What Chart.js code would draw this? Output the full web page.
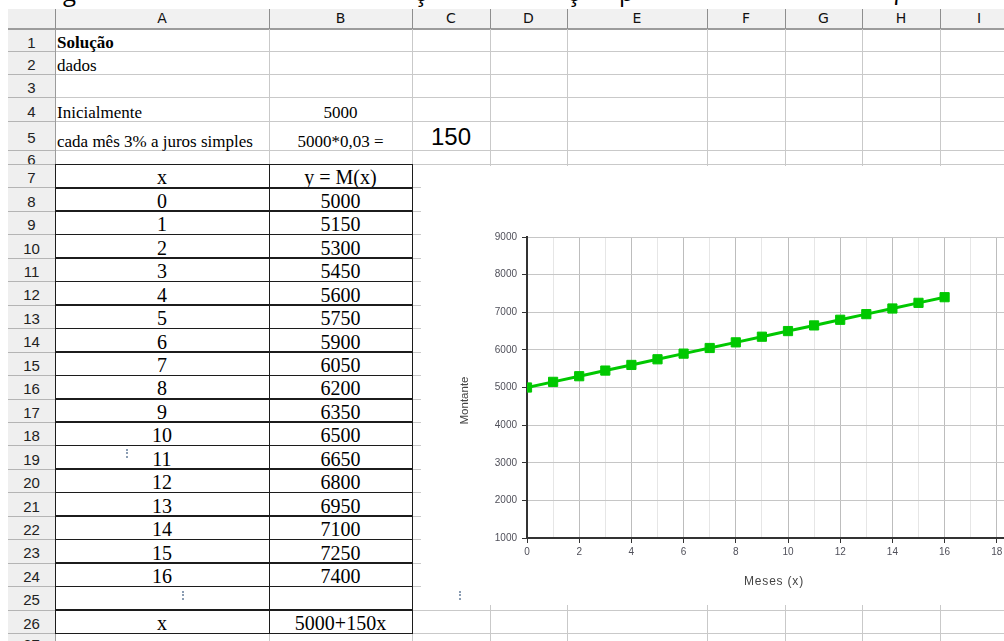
<!DOCTYPE html>
<html>
<head>
<meta charset="utf-8">
<script src="https://cdn.jsdelivr.net/npm/chart.js@4.4.1/dist/chart.umd.min.js"></script>
<style>
  html, body { margin: 0; padding: 0; background: #fff; overflow: hidden; width: 1004px; height: 641px; }
  #sheet { position: absolute; left: 0; top: 0; width: 1004px; height: 641px; overflow: hidden; background: #fff; }
  .ln { position: absolute; }
  .cell { position: absolute; display: flex; align-items: flex-end; white-space: nowrap; box-sizing: border-box; color: #000; }
  .serif17 { font-family: "Liberation Serif", serif; font-size: 17px; line-height: 17px; padding-bottom: 0px; }
  .serif20 { font-family: "Liberation Serif", serif; font-size: 20px; line-height: 20px; }
  .big { font-family: "Liberation Sans", sans-serif; font-size: 24px; line-height: 24px; padding-bottom: 1px; }
  .hdr { position: absolute; display: flex; align-items: center; justify-content: center; box-sizing: border-box; overflow: hidden; color: #222; font-family: "Liberation Sans", sans-serif; }
  #lead { position: absolute; top: -20px; left: 0; width: 1004px; height: 30px; font-family: "Open Sans", sans-serif; font-size: 24px; line-height: 24px; color: #000; }
  #lead span { position: absolute; top: 0; }
  #chartBox { position: absolute; left: 421px; top: 166px; width: 640px; height: 439px; background: #fff; z-index: 5; }
  .dots { position: absolute; width: 0; height: 9px; border-left: 2px dotted #8b9db3; z-index: 6; }
</style>
</head>
<body>
<div id="sheet">
  <div id="lead"><span style="left:63px">g</span><span style="left:414px">ç</span><span style="left:567px">ç</span><span style="left:619px">p</span><span style="left:888px;font-family:'Liberation Serif',serif;font-style:italic">η</span></div>
  <div id="chartBox"><canvas id="chart" width="640" height="439" style="width:640px;height:439px"></canvas></div>
</div>
<script>
// Table values: month number and accumulated amount (simple interest, 150 per month)
const months  = [0, 1, 2, 3, 4, 5, 6, 7, 8, 9, 10, 11, 12, 13, 14, 15, 16];
const amounts = [5000, 5150, 5300, 5450, 5600, 5750, 5900, 6050, 6200, 6350, 6500, 6650, 6800, 6950, 7100, 7250, 7400];

// Axis ranges
const xRange = [0, 20];
const yRange = [1000, 9000];
const yStep = 1000;

// Spreadsheet labels
const colLetters = ['A', 'B', 'C', 'D', 'E', 'F', 'G', 'H', 'I'];
const rowCount = 27;

// Sheet geometry (column / row edges in px)
const colEdges = [8, 55, 269, 412, 490, 567, 707, 785, 862, 940, 1018];
const rowEdges = [9, 29, 51, 74, 97, 121, 150, 164];
for (let k = 1; k <= 20; k++) rowEdges.push(164 + k * 23.45);
rowEdges.push(652);

const sheet = document.getElementById('sheet');
function box(cls, l, t, w, h, style) {
  const d = document.createElement('div');
  d.className = cls;
  d.style.left = l + 'px'; d.style.top = t + 'px';
  d.style.width = w + 'px'; d.style.height = h + 'px';
  if (style) Object.assign(d.style, style);
  sheet.insertBefore(d, document.getElementById('chartBox'));
  return d;
}

// header backgrounds
box('ln', 8, 9, 996, 20, { background: '#f1f1f1' });
box('ln', 8, 9, 47, 632, { background: '#efefef' });

// grid lines
for (let r = 1; r < rowEdges.length; r++) {
  const y = Math.round(rowEdges[r]);
  box('ln', 55, y, 960, 1, { background: '#c9c9c9' });
  box('ln', 8, y, 47, 1, { background: '#b4b4b4' });
}
box('ln', 8, 28, 996, 2, { background: '#9c9c9c' });
for (let c = 1; c < colEdges.length - 1; c++) {
  const x = colEdges[c];
  box('ln', x, 29, 1, 612, { background: c === 1 ? '#9c9c9c' : '#c9c9c9' });
  box('ln', x, 9, 1, 20, { background: '#8e8e8e' });
}

// column letters
colLetters.forEach((L, i) => {
  const d = box('hdr', colEdges[i + 1], 9, colEdges[i + 2] - colEdges[i + 1], 20,
    { fontFamily: '"DejaVu Sans", sans-serif', fontSize: '14px', paddingBottom: '2px', color: '#111' });
  d.textContent = L;
});
// row numbers
for (let r = 1; r <= rowCount; r++) {
  const t = rowEdges[r], b = rowEdges[r + 1];
  const d = box('hdr', 8, t, 47, b - t, { fontSize: '15px', paddingTop: '4px' });
  d.textContent = r;
}

// cell text
function cell(row, col, text, cls, align, extra) {
  const l = colEdges[col + 1], r = colEdges[col + 2];
  const t = rowEdges[row], b = rowEdges[row + 1];
  const d = box('cell ' + cls, align === 'left' ? l + 2 : l, t, align === 'left' ? 400 : r - l, b - t,
    Object.assign({ justifyContent: align === 'left' ? 'flex-start' : 'center' }, extra || {}));
  d.textContent = text;
  return d;
}
cell(1, 0, 'Solução', 'serif17', 'left', { fontWeight: 'bold' });
cell(2, 0, 'dados', 'serif17', 'left');
cell(4, 0, 'Inicialmente', 'serif17', 'left');
cell(4, 1, '5000', 'serif17', 'center');
cell(5, 0, 'cada mês 3% a juros simples', 'serif17', 'left');
cell(5, 1, '5000*0,03 =', 'serif17', 'center');
cell(5, 2, '150', 'big', 'center');
cell(7, 0, 'x', 'serif20', 'center');
cell(7, 1, 'y = M(x)', 'serif20', 'center');
months.forEach((m, i) => {
  cell(8 + i, 0, String(m), 'serif20', 'center');
  cell(8 + i, 1, String(amounts[i]), 'serif20', 'center');
});
cell(26, 0, 'x', 'serif20', 'center');
cell(26, 1, '5000+150x', 'serif20', 'center');

// black borders of the x / y table
for (let r = 7; r <= 27; r++) {
  box('ln', 55, rowEdges[r] - 0.5, 358, 1.6, { background: '#1c1c1c' });
}
[55, 269, 412].forEach(x => box('ln', x - 0.5, 164, 1.6, 469, { background: '#1c1c1c' }));

// small dotted markers
[[126, 449], [182, 591], [459, 591]].forEach(([x, y]) => box('dots', x, y, 0, 9));

// chart
const axisTitles = {
  id: 'axisTitles',
  afterDraw(chart) {
    const { ctx, chartArea: a } = chart;
    ctx.save();
    ctx.fillStyle = '#444';
    ctx.textAlign = 'center';
    ctx.textBaseline = 'middle';
    ctx.font = '12px "Liberation Sans", sans-serif';
    ctx.letterSpacing = '0.8px';
    ctx.fillText('Meses (x)', a.left + 247, a.bottom + 44);
    ctx.letterSpacing = '0px';
    ctx.font = '11.5px "Liberation Sans", sans-serif';
    ctx.translate(a.left - 62, (a.top + a.bottom) / 2 + 13);
    ctx.rotate(-Math.PI / 2);
    ctx.fillText('Montante', 0, 0);
    ctx.restore();
  }
};

const green = '#00c800';
new Chart(document.getElementById('chart'), {
  type: 'line',
  data: {
    datasets: [{
      data: months.map((m, i) => ({ x: m, y: amounts[i] })),
      borderColor: green,
      backgroundColor: green,
      borderWidth: 3,
      pointStyle: 'rect',
      pointRadius: 6.5,
      pointHoverRadius: 6.5,
      pointBorderWidth: 1,
      tension: 0
    }]
  },
  options: {
    responsive: false,
    animation: false,
    devicePixelRatio: 1,
    events: [],
    layout: { padding: { top: 71, right: 12, left: 0, bottom: 0 } },
    plugins: { legend: { display: false }, tooltip: { enabled: false } },
    scales: {
      x: {
        type: 'linear', min: xRange[0], max: xRange[1],
        ticks: {
          stepSize: 1, autoSkip: false, maxRotation: 0, padding: 3,
          color: '#50505a', font: { size: 10, family: '"Liberation Sans", sans-serif' },
          callback: v => (v % 2 === 0 ? String(v) : '')
        },
        grid: {
          lineWidth: 1, tickLength: 5,
          color: c => (c.tick && c.tick.value % 2 === 0 ? '#bdbdbd' : '#e6e6e6'),
          tickColor: c => (c.tick && c.tick.value % 2 === 0 ? '#333' : 'rgba(0,0,0,0)')
        },
        border: { display: true, color: '#333', width: 2 },
        afterFit: s => { s.height = 67; }
      },
      y: {
        min: yRange[0], max: yRange[1],
        ticks: {
          stepSize: yStep, padding: 5,
          color: '#50505a', font: { size: 10, family: '"Liberation Sans", sans-serif' },
          callback: v => String(v)
        },
        grid: { color: '#c6c6c6', lineWidth: 1, tickLength: 5, tickColor: '#333' },
        border: { display: true, color: '#333', width: 2 },
        afterFit: s => { s.width = 106; }
      }
    }
  },
  plugins: [axisTitles]
});
</script>
</body>
</html>
